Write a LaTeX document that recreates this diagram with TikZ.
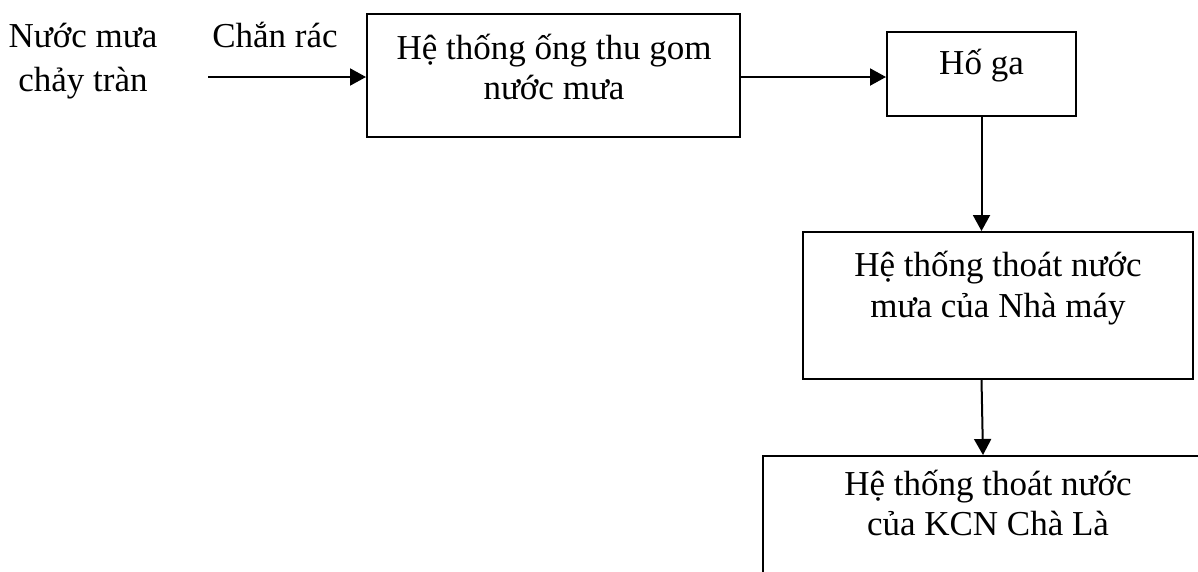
\documentclass[tikz,border=0pt]{standalone}
\usepackage{fontspec}
\setmainfont{Liberation Serif}
\usetikzlibrary{arrows.meta}
\begin{document}
\begin{tikzpicture}[x=1pt,y=-1pt,
  boxnode/.style={draw=black, line width=2pt, inner sep=0pt, rectangle},
  txt/.style={anchor=base, inner sep=0pt, font=\fontsize{35}{40}\selectfont},
  flow/.style={draw=black, line width=2pt, -{Triangle[length=16pt,width=17pt]}}]
\useasboundingbox (0,0) rectangle (1198,571);
% boxes
\node[boxnode, minimum width=373pt, minimum height=123pt] (b1) at (553.5,75.5) {};
\node[boxnode, minimum width=189pt, minimum height=84pt] (b2) at (981.5,74) {};
\node[boxnode, minimum width=390pt, minimum height=147pt] (b3) at (998,305.5) {};
\node[boxnode, minimum width=450pt, minimum height=144pt] (b4) at (988,528) {};
% free texts
\node[txt] (t1) at (83,47) {Nước mưa};
\node[txt] (t2) at (83,91) {chảy tràn};
\node[txt] (t3) at (275,47) {Chắn rác};
% box texts
\node[txt] (b1a) at (554,59) {Hệ thống ống thu gom};
\node[txt] (b1b) at (554,99) {nước mưa};
\node[txt] (b2a) at (981.5,74) {Hố ga};
\node[txt] (b3a) at (998,276) {Hệ thống thoát nước};
\node[txt] (b3b) at (998,317) {mưa của Nhà máy};
\node[txt] (b4a) at (988,495) {Hệ thống thoát nước};
\node[txt] (b4b) at (988,535) {của KCN Chà Là};
% connectors
\coordinate (s) at (208,77);
\draw[flow] (s) -- (s -| b1.west);
\draw[flow] (s -| b1.east) -- (s -| b2.west);
\draw[flow] (b2.south) -- (b2.south |- b3.north);
\coordinate (e) at (983,0);
\draw[flow] (b3.south -| b2.south) -- (b4.north -| e);
\end{tikzpicture}
\end{document}
